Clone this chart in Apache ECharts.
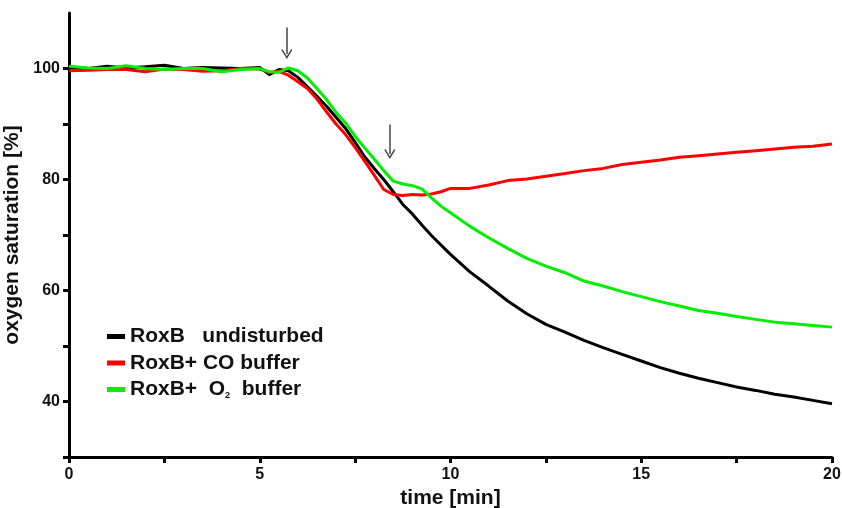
<!DOCTYPE html>
<html>
<head>
<meta charset="utf-8">
<script src="https://cdn.jsdelivr.net/npm/echarts@6/dist/echarts.min.js"></script>
<style>
  html, body { margin: 0; padding: 0; background: #fff; }
  #chart { width: 842px; height: 508px; }
</style>
</head>
<body>
<div id="chart"></div>
<script>
/**
 * data
 */
var time = [0, 0.5, 1, 1.5, 2, 2.5, 3, 3.5, 4, 4.5, 5,
  5.25, 5.5, 5.75, 6, 6.25, 6.5, 6.75, 7, 7.25, 7.5, 7.75, 8, 8.25, 8.5, 8.75, 9, 9.25, 9.5, 9.75, 10,
  10.5, 11, 11.5, 12, 12.5, 13, 13.5, 14, 14.5, 15, 15.5, 16, 16.5, 17, 17.5, 18, 18.5, 19, 19.5, 20];

var undisturbed = [100.2, 100.0, 100.4, 100.1, 100.3, 100.6, 100.0, 100.2, 100.1, 100.0, 100.2,
  98.9, 99.8, 99.6, 98.4, 96.7, 95.0, 93.2, 91.2, 89.2, 86.7, 84.1, 82.0, 80.0, 77.8, 75.5, 73.8, 71.8, 69.9, 68.2, 66.5,
  63.4, 60.8, 58.1, 55.8, 53.9, 52.5, 51.0, 49.7, 48.5, 47.3, 46.1, 45.1, 44.2, 43.4, 42.6, 42.0, 41.3, 40.8, 40.2, 39.6];

var coBuffer = [99.6, 99.7, 99.8, 99.8, 99.4, 99.9, 99.8, 99.5, 99.6, 100.0, 99.9,
  99.3, 99.5, 98.8, 97.6, 96.4, 94.5, 92.2, 90.0, 88.1, 85.8, 83.3, 80.8, 78.2, 77.3, 77.1, 77.3, 77.2, 77.4, 77.8, 78.4,
  78.4, 79.0, 79.8, 80.1, 80.6, 81.1, 81.6, 82.0, 82.7, 83.1, 83.5, 84.0, 84.3, 84.6, 84.9, 85.2, 85.5, 85.8, 86.0, 86.4];

var o2Buffer = [100.4, 100.1, 100.0, 100.5, 100.0, 99.8, 100.0, 100.0, 99.4, 99.8, 100.0,
  99.4, 99.3, 100.1, 99.6, 98.3, 96.4, 94.4, 92.1, 90.2, 87.8, 85.7, 83.7, 81.6, 79.7, 79.2, 78.9, 78.3, 76.7, 75.2, 74.0,
  71.6, 69.5, 67.6, 65.8, 64.4, 63.2, 61.7, 60.8, 59.8, 58.9, 58.0, 57.2, 56.4, 55.9, 55.3, 54.8, 54.3, 54.0, 53.7, 53.4];

var seriesNames = ['RoxB   undisturbed', 'RoxB+ CO buffer', 'RoxB+  O2 buffer'];
var seriesColors = ['#000000', '#ff0000', '#00ee00'];

var xTicks = [0, 2.5, 5, 7.5, 10, 12.5, 15, 17.5, 20];
var xLabels = [0, 5, 10, 15, 20];
var yTicks = [30, 40, 50, 60, 70, 80, 90, 100];
var yLabels = [40, 60, 80, 100];

// arrows marking the additions: [time, from, to]
var arrows = [[5.71, 107.4, 102.6], [8.41, 89.9, 84.6]];

var fontFam = 'Arial, "Liberation Sans", sans-serif';

function pairs(vals){
    var out = [];
    for (var i = 0; i < time.length; i++) {
        out.push([time[i], vals[i]]);
    }
    return out;
}

var arrowLines = arrows.map(function(a){
    return [{coord: [a[0], a[1]]}, {coord: [a[0], a[2]]}];
});

var chart = echarts.init(document.getElementById('chart'));

var allVals = [undisturbed, coBuffer, o2Buffer];
var series = allVals.map(function(vals, i){
    return {
        name: seriesNames[i],
        type: 'line',
        data: pairs(vals),
        showSymbol: false,
        symbol: 'none',
        lineStyle: { color: seriesColors[i], width: 3 },
        itemStyle: { color: seriesColors[i] },
        z: 3 + i
    };
});

// arrows, open head
series[0].markLine = {
    silent: true,
    symbol: ['none', 'path://M5,0 L10,8.5 L9,9.5 L5,2.6 L1,9.5 L0,8.5 Z'],
    symbolSize: [11, 10],
    label: { show: false },
    lineStyle: { color: '#444', width: 1.5, type: 'solid' },
    data: arrowLines
};

var option = {
    animation: false,
    grid: { left: 69, right: 10, top: 13, bottom: 51, outerBoundsMode: 'none' },
    legend: {
        orient: 'vertical',
        left: 102,
        top: 321,
        itemWidth: 18,
        itemHeight: 5,
        itemGap: 5.5,
        icon: 'rect',
        data: seriesNames,
        textStyle: {
            fontFamily: fontFam, fontSize: 21, lineHeight: 21, fontWeight: 'bold', color: '#111',
            rich: {
                sub: { fontFamily: fontFam, fontSize: 9, fontWeight: 'bold', color: '#111', padding: [12, 0, 0, 0] }
            }
        },
        formatter: function(name){
            if (name === seriesNames[2]) return 'RoxB+  O{sub|2}  buffer';
            return name;
        }
    },
    xAxis: {
        type: 'value',
        min: 0, max: 20,
        name: 'time [min]',
        nameLocation: 'middle',
        nameGap: 29,
        nameTextStyle: { fontFamily: fontFam, fontSize: 21, fontWeight: 'bold', color: '#111' },
        axisLine: { show: true, lineStyle: { color: '#000', width: 3 } },
        axisTick: { show: true, length: 6, lineStyle: { color: '#000', width: 3 }, customValues: xTicks },
        axisLabel: { fontFamily: fontFam, fontSize: 16, fontWeight: 'bold', color: '#111', margin: 10, customValues: xLabels },
        splitLine: { show: false }
    },
    yAxis: {
        type: 'value',
        min: 30, max: 110,
        name: 'oxygen saturation [%]',
        nameLocation: 'middle',
        nameGap: 40,
        nameTextStyle: { fontFamily: fontFam, fontSize: 21, fontWeight: 'bold', color: '#111' },
        axisLine: { show: true, lineStyle: { color: '#000', width: 3 } },
        axisTick: { show: true, length: 6, lineStyle: { color: '#000', width: 3 }, customValues: yTicks },
        axisLabel: { fontFamily: fontFam, fontSize: 16, fontWeight: 'bold', color: '#111', margin: 9, customValues: yLabels },
        splitLine: { show: false }
    },
    series: series
};

chart.setOption(option);
</script>
</body>
</html>
